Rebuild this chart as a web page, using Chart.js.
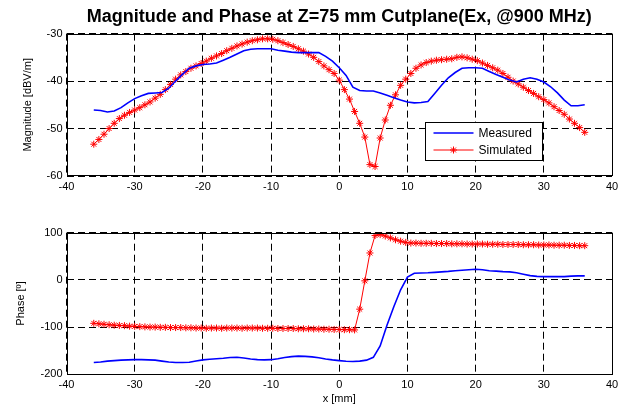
<!DOCTYPE html>
<html>
<head>
<meta charset="utf-8">
<script src="https://cdn.jsdelivr.net/npm/chart.js@4/dist/chart.umd.min.js"></script>
<style>
html,body{margin:0;padding:0;background:#fff;overflow:hidden;width:626px;height:404px;}
#c1{position:absolute;left:0;top:0;}
#c2{position:absolute;left:0;top:195px;}
</style>
</head>
<body>
<canvas id="c1" width="626" height="195"></canvas>
<canvas id="c2" width="626" height="211"></canvas>
<script>
// ---------- data ----------
const chartTitle = "Magnitude and Phase at Z=75 mm Cutplane(Ex, @900 MHz)";
const seriesNames = ["Measured", "Simulated"];
const xTicks = [-40, -30, -20, -10, 0, 10, 20, 30, 40];
const magTicks = [-60, -50, -40, -30];
const phaseTicks = [-200, -100, 0, 100];

const simX = [-36,-35.25,-34.5,-33.75,-33,-32.25,-31.5,-30.75,-30,-29.25,-28.5,-27.75,-27,-26.25,-25.5,-24.75,-24,-23.25,-22.5,-21.75,-21,-20.25,-19.5,-18.75,-18,-17.25,-16.5,-15.75,-15,-14.25,-13.5,-12.75,-12,-11.25,-10.5,-9.75,-9,-8.25,-7.5,-6.75,-6,-5.25,-4.5,-3.75,-3,-2.25,-1.5,-0.75,0,0.75,1.5,2.25,3,3.75,4.5,5.25,6,6.75,7.5,8.25,9,9.75,10.5,11.25,12,12.75,13.5,14.25,15,15.75,16.5,17.25,18,18.75,19.5,20.25,21,21.75,22.5,23.25,24,24.75,25.5,26.25,27,27.75,28.5,29.25,30,30.75,31.5,32.25,33,33.75,34.5,35.25,36];

const simMag = [-53.3,-52.3,-51.2,-50.0,-48.9,-47.9,-47.2,-46.6,-46.1,-45.6,-45.0,-44.4,-43.6,-42.8,-41.8,-40.7,-39.6,-38.7,-38.0,-37.3,-36.8,-36.3,-35.8,-35.2,-34.7,-34.2,-33.6,-33.1,-32.6,-32.2,-31.8,-31.5,-31.3,-31.1,-31.1,-31.2,-31.5,-31.9,-32.3,-32.7,-33.2,-33.7,-34.3,-35.0,-35.9,-36.8,-37.6,-38.4,-39.8,-41.8,-43.8,-46.4,-48.9,-51.8,-57.6,-58.0,-52.0,-48.2,-45.1,-42.9,-40.9,-39.6,-38.4,-37.3,-36.6,-36.1,-35.8,-35.6,-35.5,-35.4,-35.3,-35.0,-34.9,-35.1,-35.4,-35.7,-36.2,-36.7,-37.2,-37.7,-38.4,-39.2,-40.0,-40.6,-41.3,-42.0,-42.6,-43.3,-43.9,-44.6,-45.4,-46.2,-47.0,-48.0,-48.9,-49.8,-50.8];

const simPhase = [-92,-93,-94,-95,-96,-96.5,-97,-98,-98.5,-99,-99.5,-100,-100,-100.5,-100.5,-101,-101,-101,-101.5,-101.5,-102,
  -102,-102.5,-102,-102,-102.5,-102,-102,-102,-102.5,-102,-102,-102,
  -102.5,-102.5,-102.5,-103,-103,-103,-103,-103.5,-103.5,-103.5,-104,-104,-104.5,-104.5,-105,-105,-105.5,-105.5,-106,
  -62,-2,57,94,96,93,89,85,82,79.5,
  78,78,77.5,77.5,77.5,77,77,77,76.5,76.5,76.5,76,76,76,76,75.5,75.5,75.5,75,75,75,75,74.5,74.5,74.5,74,74,74,73.5,73.5,73.5,73,73,72.5,72.5];

const measX = [-36,-35,-34,-33,-32,-31,-30,-29,-28,-27,-26,-25,-24,-23,-22,-21,-20,-19,-18,-17,-16,-15,-14,-13,-12,-11,-10,-9,-8,-7,-6,-5,-4,-3,-2,-1,0,1,2,3,4,5,6,7,8,9,10,11,12,13,14,15,16,17,18,19,20,21,22,23,24,25,26,27,28,29,30,31,32,33,34,35,36];

const measMag = [-46.1,-46.2,-46.5,-46.3,-45.6,-44.6,-43.7,-43.1,-42.6,-42.5,-42.4,-41.5,-40.0,-38.6,-37.3,-36.8,-36.5,-36.4,-36.2,-35.6,-35.0,-34.3,-33.6,-33.3,-33.2,-33.2,-33.2,-33.5,-33.7,-33.9,-34.0,-34.0,-34.0,-34.0,-34.8,-35.8,-37.2,-38.8,-41.3,-42.0,-42.1,-42.1,-42.5,-43.0,-43.5,-44.0,-44.4,-44.6,-44.5,-44.3,-42.6,-40.9,-39.3,-38.2,-37.3,-37.2,-37.2,-37.3,-38.0,-38.6,-39.2,-39.8,-40.2,-39.6,-39.3,-39.6,-40.2,-41.2,-42.5,-44.0,-45.2,-45.2,-45.0];

const measPhase = [-175,-174,-172,-171,-170,-169.5,-169,-169,-169.5,-170,-172,-174,-175,-175,-174.5,-172,-169.5,-168,-167,-166,-164.5,-164,-165.5,-167.5,-169,-169.5,-169,-167,-164.5,-162.5,-161.5,-162,-163,-165,-167.5,-169.5,-171,-172.5,-173,-172,-170,-164,-140,-96,-57,-21,6,14,14.5,15,16,17,18,19.5,20.5,21.5,22.5,21.5,19.5,18.5,17.5,17,15,12,9,7.5,7,7,7,7,8,8.5,8.5];

// ---------- helpers ----------
const FONT = "'Liberation Sans', Arial, sans-serif";
const pts = (xs, ys) => xs.map((x, i) => ({x: x, y: ys[i]}));

const boxPlugin = {
  id: 'matlabBox',
  afterDraw(chart) {
    const ca = chart.chartArea, ctx = chart.ctx;
    ctx.save();
    ctx.strokeStyle = '#000';
    ctx.lineWidth = 1;
    ctx.setLineDash([]);
    ctx.strokeRect(Math.round(ca.left) + 0.5, Math.round(ca.top) + 0.5,
                   Math.round(ca.right - ca.left) - 1, Math.round(ca.bottom - ca.top) - 1);
    ctx.restore();
  }
};

const legendPlugin = {
  id: 'innerLegend',
  afterDraw(chart) {
    const ca = chart.chartArea, ctx = chart.ctx;
    const w = 117, h = 38;
    const x0 = Math.round(ca.right - 70.5 - w) + 0.5;
    const y0 = Math.round(ca.bottom - 16 - h) + 0.5;
    ctx.save();
    ctx.fillStyle = '#fff';
    ctx.fillRect(x0, y0, w, h);
    ctx.strokeStyle = '#000';
    ctx.lineWidth = 1;
    ctx.setLineDash([]);
    ctx.strokeRect(x0, y0, w, h);
    const ds = chart.data.datasets;
    const rows = [10, 27.5];
    ds.forEach((d, i) => {
      const y = Math.round(y0 + rows[i]);
      ctx.strokeStyle = d.borderColor;
      ctx.lineWidth = d.borderWidth;
      ctx.beginPath();
      ctx.moveTo(x0 + 8, y);
      ctx.lineTo(x0 + 48, y);
      ctx.stroke();
      if (d.pointRadius > 0) {
        ctx.lineWidth = 1;
        Chart.helpers.drawPoint(ctx, {pointStyle: d.pointStyle, radius: d.pointRadius, rotation: 0, borderWidth: 1}, x0 + 28, y);
      }
      ctx.fillStyle = '#000';
      ctx.font = '12px ' + FONT;
      ctx.textBaseline = 'middle';
      ctx.textAlign = 'left';
      ctx.fillText(d.label, x0 + 53, y + 0.5);
    });
    ctx.restore();
  }
};

function makeDatasets(measY, simY) {
  return [
    {label: seriesNames[0], data: pts(measX, measY), showLine: true, borderColor: '#0000ff', backgroundColor: '#0000ff',
     borderWidth: 1.6, pointRadius: 0, tension: 0},
    {label: seriesNames[1], data: pts(simX, simY), showLine: true, borderColor: '#ff0000', backgroundColor: '#ff0000',
     borderWidth: 1, pointRadius: 3.5, pointStyle: 'star', pointBorderWidth: 1, tension: 0}
  ];
}

function xScale(height, titleText) {
  return {
    type: 'linear', min: -40, max: 40,
    afterBuildTicks: s => { s.ticks = xTicks.map(v => ({value: v})); },
    afterFit: s => { s.height = height; },
    grid: {color: '#000', lineWidth: 1, drawTicks: false},
    border: {display: false, dash: [7, 4]},
    ticks: {color: '#000', font: {family: FONT, size: 11}, padding: 4, maxRotation: 0, autoSkip: false},
    title: titleText ? {display: true, text: titleText, color: '#000', font: {family: FONT, size: 11}, padding: {top: 0, bottom: 0}} : {display: false}
  };
}

function yScale(min, max, tickVals, titleText, titlePad) {
  return {
    type: 'linear', min: min, max: max,
    afterBuildTicks: s => { s.ticks = tickVals.map(v => ({value: v})); },
    afterFit: s => { s.width = 66.5; },
    grid: {color: '#000', lineWidth: 1, drawTicks: false},
    border: {display: false, dash: [7, 4]},
    ticks: {color: '#000', font: {family: FONT, size: 11}, padding: 4, autoSkip: false},
    title: {display: true, text: titleText, color: '#000', font: {family: FONT, size: 11}, padding: {top: titlePad, bottom: 0}}
  };
}

Chart.defaults.font.family = FONT;

new Chart(document.getElementById('c1'), {
  type: 'scatter',
  data: {datasets: makeDatasets(measMag, simMag)},
  options: {
    responsive: false, animation: false, devicePixelRatio: 1,
    layout: {padding: {left: 0, right: 14, top: 0, bottom: 0}},
    plugins: {
      legend: {display: false}, tooltip: {enabled: false},
      title: {display: true, text: chartTitle, color: '#000', fullSize: false,
              font: {family: FONT, size: 18, weight: 'bold'}, padding: {top: 6, bottom: 6}}
    },
    scales: {
      x: xScale(19, null),
      y: yScale(-60, -30, magTicks, 'Magnitude [dBV/m]', 21.4)
    }
  },
  plugins: [boxPlugin, legendPlugin]
});

new Chart(document.getElementById('c2'), {
  type: 'scatter',
  data: {datasets: makeDatasets(measPhase, simPhase)},
  options: {
    responsive: false, animation: false, devicePixelRatio: 1,
    layout: {padding: {left: 0, right: 14, top: 37.7, bottom: 0}},
    plugins: {legend: {display: false}, tooltip: {enabled: false}},
    scales: {
      x: xScale(31.7, 'x [mm]'),
      y: yScale(-200, 100, phaseTicks, 'Phase [º]', 14.4)
    }
  },
  plugins: [boxPlugin]
});
</script>
</body>
</html>
